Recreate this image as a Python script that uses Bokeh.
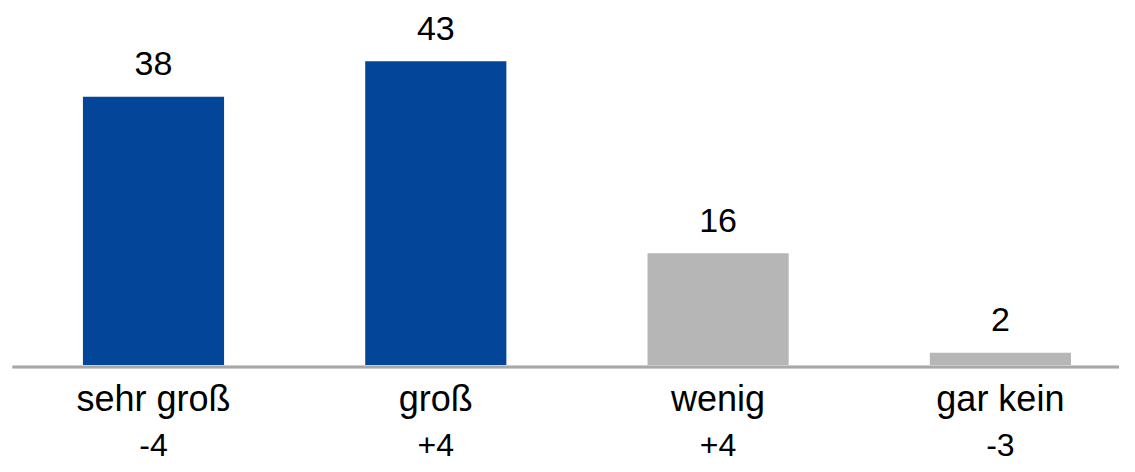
from bokeh.plotting import figure
from bokeh.models import Range1d, ColumnDataSource
from bokeh.core.properties import value
from bokeh.embed import file_html
from bokeh.resources import INLINE

# ---- data ----
categories = ["sehr groß", "groß", "wenig", "gar kein"]
shares = [38, 43, 16, 2]
changes = ["-4", "+4", "+4", "-3"]

# ---- styles ----
BLUE = "#034598"
GREY = "#B6B6B6"
bar_colors = [BLUE, BLUE, GREY, GREY]
FONT = "Liberation Sans"

xs = list(range(len(categories)))
src = ColumnDataSource(dict(
    x=xs,
    top=shares,
    label=[str(v) for v in shares],
    cat=categories,
    chg=changes,
    color=bar_colors,
))

W, H = 1119, 464
p = figure(width=W, height=H, output_backend="svg", toolbar_location=None,
           x_range=Range1d(-0.542, 3.422), y_range=Range1d(-13.71, 51.55),
           min_border=0, min_border_left=0, min_border_right=0,
           min_border_top=0, min_border_bottom=0)
p.axis.visible = False
p.grid.visible = False
p.outline_line_color = None
p.background_fill_color = "white"
p.border_fill_color = "white"

p.vbar(x="x", top="top", bottom=0, width=0.5, fill_color="color",
       line_color=None, source=src)

# baseline across the category bands
n = len(categories)
p.segment(x0=-0.5, x1=n - 0.5, y0=0, y1=0, line_color="#DADADA",
          line_width=4)
p.segment(x0=-0.5, x1=n - 0.5, y0=0, y1=0, line_color="#A8A8A8",
          line_width=2.5)

# value labels above bars
p.text(x="x", y="top", text="label", source=src, text_align="center",
       text_baseline="alphabetic", y_offset=-33, text_font=value(FONT),
       text_font_size="34px", text_color="#000000")

# category labels below baseline
p.text(x="x", y=0, text="cat", source=src, text_align="center",
       text_baseline="middle", y_offset=31, text_font=value(FONT),
       text_font_size="36px", text_color="#000000")

# change labels
p.text(x="x", y=0, text="chg", source=src, text_align="center",
       text_baseline="middle", y_offset=78, text_font=value(FONT),
       text_font_size="32px", text_color="#000000")

open("out.html", "w").write(file_html(p, INLINE))
